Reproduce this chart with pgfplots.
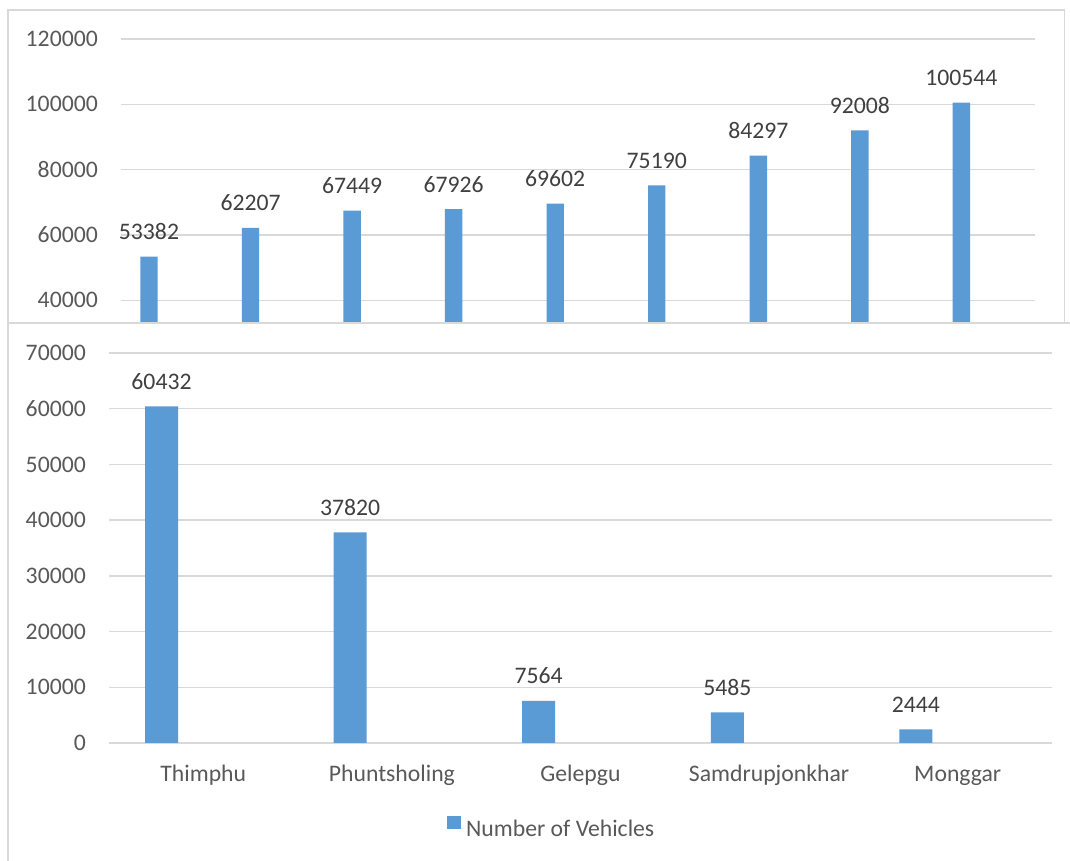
\documentclass[border=0pt]{standalone}
\usepackage{fontspec}
\setmainfont{Carlito}
\usepackage{pgfplots}
\pgfplotsset{compat=1.18}
\definecolor{barblue}{HTML}{5B9BD5}
\definecolor{gridgray}{HTML}{D9D9D9}
\definecolor{ticktext}{HTML}{595959}
\definecolor{labeltext}{HTML}{404040}
\newcommand{\cf}{\fontsize{23.7pt}{28pt}\selectfont}
\pgfplotsset{
  excelstyle/.style={
    scale only axis,
    anchor=south west,
    ybar,
    axis line style={draw=none},
    major tick length=0pt,
    ymajorgrids,
    grid style={gridgray, line width=1.5pt},
    scaled y ticks=false,
    yticklabel style={font=\cf, text=ticktext, anchor=east, inner sep=0pt, xshift=-23pt},
    point meta=explicit symbolic,
    nodes near coords,
    nodes near coords style={font=\cf, text=labeltext, anchor=south, inner sep=0pt, yshift=16.5pt},
  }
}
\begin{document}
\begin{tikzpicture}
\useasboundingbox (0pt,0pt) rectangle (1070pt,861pt);
\fill[white] (0pt,0pt) rectangle (1070pt,861pt);
\begin{axis}[excelstyle, at={(121pt,538pt)}, width=914pt, height=284pt,
  xmin=-0.5, xmax=8.5, ymin=33050, ymax=120000,
  ytick={40000,60000,80000,100000,120000},
  yticklabels={40000,60000,80000,100000,120000},
  xtick=\empty,
  bar width=0.171]
\addplot[fill=barblue, draw=none, bar shift=-0.2245] coordinates {
  (0,53382) [53382] (1,62207) [62207] (2,67449) [67449] (3,67926) [67926]
  (4,69602) [69602] (5,75190) [75190] (6,84297) [84297] (7,92008) [92008]
  (8,100544) [100544]};
\end{axis}
\begin{axis}[excelstyle, at={(109pt,118pt)}, width=943pt, height=390pt,
  xmin=-0.5, xmax=4.5, ymin=0, ymax=70000,
  ytick={0,10000,20000,30000,40000,50000,60000,70000},
  yticklabels={0,10000,20000,30000,40000,50000,60000,70000},
  xtick={0,1,2,3,4},
  xticklabels={Thimphu,Phuntsholing,Gelepgu,Samdrupjonkhar,Monggar},
  xticklabel style={font=\cf, text=ticktext, anchor=base, inner sep=0pt, yshift=-39pt},
  bar width=0.175,
  legend style={at={(0.3552,-0.218)}, anchor=west, draw=none, fill=none,
    font=\cf, text=ticktext, legend cell align=left},
  legend image code/.code={\fill[barblue] (0pt,0pt) rectangle (13.5pt,12.5pt);
    \path (0pt,0pt) -- (17pt,0pt);}]
\addplot[fill=barblue, draw=none, bar shift=-0.2216] coordinates {
  (0,60432) [60432] (1,37820) [37820] (2,7564) [7564] (3,5485) [5485] (4,2444) [2444]};
\addlegendentry{Number of Vehicles}
\end{axis}
\draw[gridgray, line width=1.5pt] (8pt,538pt) rectangle (1064.5pt,851pt);
\draw[gridgray, line width=1.5pt] (8pt,0pt) -- (8pt,538pt) -- (1070pt,538pt);
\end{tikzpicture}
\end{document}
